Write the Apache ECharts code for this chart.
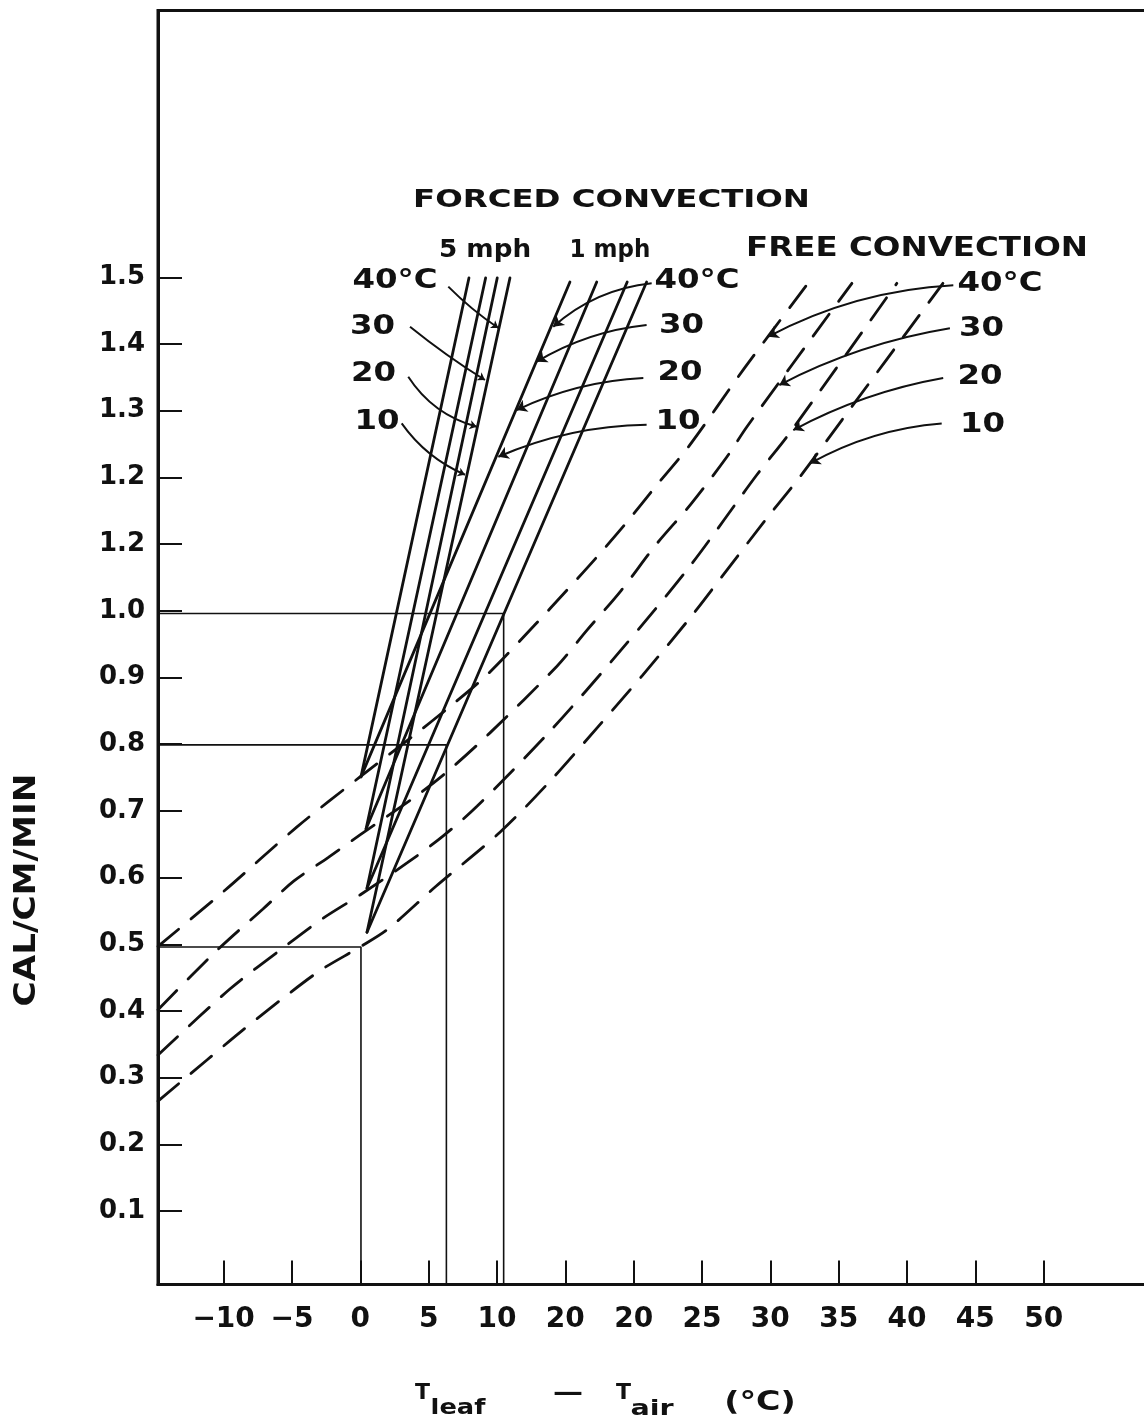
<!DOCTYPE html>
<html><head><meta charset="utf-8">
<script src="https://cdn.jsdelivr.net/npm/echarts@6/dist/echarts.min.js"></script>
<style>html,body{margin:0;padding:0;background:#fff}#c{width:1144px;height:1428px}</style>
</head><body><div id="c"></div>
<script>
// ---- tick values and printed tick labels (as printed in the original figure)
const xTickValues = [-10, -5, 0, 5, 10, 15, 20, 25, 30, 35, 40, 45, 50];
const xTickLabels = ['−10', '−5', '0', '5', '10', '20', '20', '25', '30', '35', '40', '45', '50'];
const yTickValues = [0.1, 0.2, 0.3, 0.4, 0.5, 0.6, 0.7, 0.8, 0.9, 1.0, 1.1, 1.2, 1.3, 1.4, 1.5];
const yTickLabels = ['0.1', '0.2', '0.3', '0.4', '0.5', '0.6', '0.7', '0.8', '0.9', '1.0', '1.2', '1.2', '1.3', '1.4', '1.5'];

// ---- forced convection, 5 mph (solid)
const forced5_40 = [[0.05, 0.751], [7.95, 1.499]];
const forced5_30 = [[0.42, 0.673], [9.17, 1.499]];
const forced5_20 = [[0.49, 0.584], [10.02, 1.499]];
const forced5_10 = [[0.49, 0.518], [10.95, 1.499]];
// ---- forced convection, 1 mph (solid)
const forced1_40 = [[0.05, 0.751], [15.34, 1.493]];
const forced1_30 = [[0.42, 0.673], [17.30, 1.493]];
const forced1_20 = [[0.49, 0.584], [19.53, 1.493]];
const forced1_10 = [[0.49, 0.518], [20.95, 1.493]];
// ---- free convection (dashed)
const free_40 = [[-14.8, 0.497], [-9.90, 0.581], [-4.63, 0.676], [-0.02, 0.751], [3.78, 0.811], [6.71, 0.859], [9.27, 0.904], [12.78, 0.979], [15.12, 1.031], [17.24, 1.079], [19.51, 1.133], [21.63, 1.187], [24.05, 1.247], [28.08, 1.363], [32.76, 1.491]];
const free_30 = [[-14.8, 0.402], [-10.48, 0.491], [-7.12, 0.553], [-4.85, 0.595], [-2.36, 0.630], [-0.02, 0.664], [4.07, 0.722], [6.49, 0.761], [9.49, 0.817], [14.39, 0.917], [16.59, 0.971], [19.07, 1.030], [21.63, 1.099], [24.19, 1.160], [26.83, 1.231], [28.29, 1.276], [35.97, 1.491]];
const free_20 = [[-14.8, 0.334], [-9.54, 0.433], [-5.66, 0.4945], [-2.80, 0.538], [-0.02, 0.574], [3.42, 0.622], [5.98, 0.661], [8.54, 0.707], [13.95, 0.821], [19.07, 0.941], [24.12, 1.067], [29.02, 1.204], [31.36, 1.265], [39.26, 1.491]];
const free_10 = [[-14.8, 0.265], [-11.22, 0.3265], [-8.80, 0.368], [-5.73, 0.418], [-2.88, 0.4615], [-0.02, 0.496], [2.03, 0.523], [5.54, 0.587], [10.22, 0.668], [13.81, 0.743], [17.39, 0.826], [20.68, 0.904], [24.19, 0.991], [27.12, 1.069], [29.83, 1.141], [32.17, 1.201], [35.24, 1.286], [42.63, 1.491]];

// ---- worked-example guide lines: level and the T difference where it drops to the axis
const guideLevels = [0.996, 0.799, 0.496];
const guideDiffs = [10.49, 6.3, 0.05];

// ---- leader lines from the labels to the curves: [label end, arrow end]
const lead5 = [[[6.44, 1.486], [10.10, 1.424]], [[3.64, 1.426], [9.12, 1.346]], [[3.51, 1.351], [8.52, 1.276]], [[3.03, 1.281], [7.66, 1.204]]];
const lead1 = [[[21.32, 1.491], [14.12, 1.426]], [[20.95, 1.4285], [12.91, 1.3735]], [[20.71, 1.349], [11.44, 1.301]], [[20.95, 1.279], [10.10, 1.231]]];
const leadFree = [[[43.39, 1.488], [29.85, 1.411]], [[43.14, 1.4235], [30.66, 1.3385]], [[42.65, 1.349], [31.68, 1.271]], [[42.54, 1.281], [32.90, 1.221]]];

// ---- styles
const INK = '#111';
const FONT = '"DejaVu Sans", "Noto Sans", sans-serif';
const X_MIN = -14.8, X_MAX = 58, Y_MIN = -0.01, Y_MAX = 1.9;
const curve5 = [-0.05, -0.03, -0.19, -0.14];
const curve1 = [-0.16, -0.11, -0.10, -0.10];
const curveFree = [-0.11, -0.08, -0.08, -0.11];

function lookup(values, labels, v) {
  for (let i = 0; i < values.length; i++) if (Math.abs(values[i] - v) < 1e-6) return labels[i];
  return '';
}
function solid(name, data) {
  return { name, type: 'line', data, symbol: 'none', silent: true, z: 4,
    lineStyle: { color: INK, width: 2.8, cap: 'round' } };
}
function dashed(name, data) {
  return { name, type: 'line', data, symbol: 'none', silent: true, z: 3, smooth: 0.3,
    lineStyle: { color: INK, width: 2.8, type: [27, 16], cap: 'round' } };
}
function leaders(name, list, curves, arrow) {
  return { name, type: 'lines', coordinateSystem: 'cartesian2d', silent: true, z: 5,
    symbol: ['none', 'arrow'], symbolSize: arrow,
    lineStyle: { color: INK, width: 2, opacity: 1 },
    data: list.map((c, i) => ({ coords: c, lineStyle: { curveness: curves[i] } })) };
}
const guides = guideLevels.map((lv, i) => ({
  name: 'guide' + i, type: 'line', symbol: 'none', silent: true, z: 2,
  data: [[X_MIN, lv], [guideDiffs[i], lv], [guideDiffs[i], Y_MIN]],
  lineStyle: { color: INK, width: 1.6 }
}));

function txt(t, x, y, size, sx, extra) {
  return Object.assign({ type: 'text', x, y, scaleX: sx, silent: true, z: 10,
    style: { text: t, font: 'bold ' + size + 'px ' + FONT, fill: INK, textAlign: 'center', textVerticalAlign: 'middle' } }, extra || {});
}
const texts = [
  txt('FORCED CONVECTION', 611.5, 201, 24, 1.35),
  txt('5 mph', 485, 250, 25, 1.05),
  txt('1 mph', 610, 250, 25, 0.92),
  txt('FREE CONVECTION', 917, 249, 26, 1.25),
  txt('40°C', 395, 281, 27, 1.2), txt('30', 372.5, 327, 27, 1.2), txt('20', 373.5, 374, 27, 1.2), txt('10', 377, 422, 27, 1.2),
  txt('40°C', 697, 281, 27, 1.2), txt('30', 681.5, 326, 27, 1.2), txt('20', 680, 373, 27, 1.2), txt('10', 678, 422, 27, 1.2),
  txt('40°C', 1000, 284, 27, 1.2), txt('30', 981.5, 329, 27, 1.2), txt('20', 980, 377, 27, 1.2), txt('10', 982.5, 425, 27, 1.2),
  txt('CAL/CM/MIN', 27, 890, 30, 1.14, { rotation: Math.PI / 2 }),
  txt('T', 422.5, 1393, 22, 1.0),
  txt('leaf', 458, 1408, 22, 1.17),
  txt('—', 568, 1394, 24, 1.25),
  txt('T', 623.5, 1393, 22, 1.0),
  txt('air', 652, 1409, 22, 1.3),
  txt('(°C)', 760, 1403, 26, 1.28)
];

const chart = echarts.init(document.getElementById('c'), null, { renderer: 'canvas' });
chart.setOption({
  animation: false,
  backgroundColor: '#fff',
  grid: { left: 158, top: 10.5, width: 995, height: 1274, show: true, borderColor: INK, borderWidth: 3,
    backgroundColor: 'transparent', containLabel: false, outerBoundsMode: 'none' },
  xAxis: {
    type: 'value', min: X_MIN, max: X_MAX,
    axisLine: { show: true, onZero: false, lineStyle: { color: INK, width: 3 } },
    axisTick: { show: true, inside: true, length: 24, customValues: xTickValues, lineStyle: { color: INK, width: 2 } },
    axisLabel: { show: true, customValues: xTickValues, margin: 21, color: INK, fontSize: 28, fontWeight: 'bold', fontFamily: FONT,
      formatter: v => lookup(xTickValues, xTickLabels, v) },
    splitLine: { show: false }
  },
  yAxis: {
    type: 'value', min: Y_MIN, max: Y_MAX,
    axisLine: { show: true, onZero: false, lineStyle: { color: INK, width: 3 } },
    axisTick: { show: true, inside: true, length: 24, customValues: yTickValues, lineStyle: { color: INK, width: 2 } },
    axisLabel: { show: true, customValues: yTickValues, margin: 13, color: INK, fontSize: 26, fontWeight: 'bold', fontFamily: FONT,
      formatter: v => lookup(yTickValues, yTickLabels, v) },
    splitLine: { show: false }
  },
  series: [
    ...guides,
    solid('5 mph 40°C', forced5_40), solid('5 mph 30°C', forced5_30), solid('5 mph 20°C', forced5_20), solid('5 mph 10°C', forced5_10),
    solid('1 mph 40°C', forced1_40), solid('1 mph 30°C', forced1_30), solid('1 mph 20°C', forced1_20), solid('1 mph 10°C', forced1_10),
    dashed('free 40°C', free_40), dashed('free 30°C', free_30), dashed('free 20°C', free_20), dashed('free 10°C', free_10),
    leaders('lead 5 mph', lead5, curve5, 7),
    leaders('lead 1 mph', lead1, curve1, 10),
    leaders('lead free', leadFree, curveFree, 10)
  ],
  graphic: texts
});
</script>
</body></html>
